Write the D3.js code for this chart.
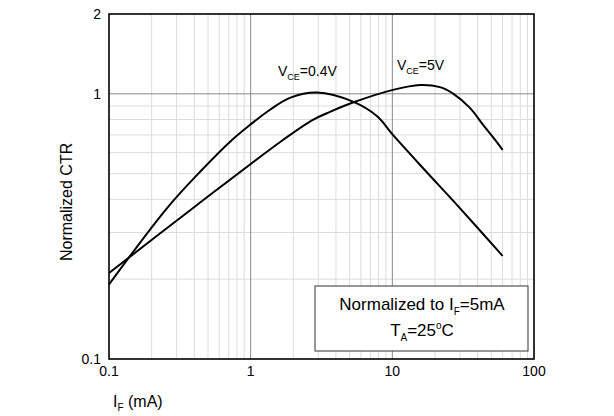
<!DOCTYPE html>
<html>
<head>
<meta charset="utf-8">
<script src="https://cdn.jsdelivr.net/npm/d3@7"></script>
<style>
  body { margin: 0; background: #fff; }
  text { font-family: Arial, "Liberation Sans", sans-serif; fill: #000; }
</style>
</head>
<body>
<script>
// forward current (mA) and normalized CTR
var if04  = [0.1, 0.257, 0.45, 0.738, 0.99, 1.37, 1.89, 2.94, 5.27, 7.78, 10.1, 17, 29, 60];
var ctr04 = [0.191, 0.371, 0.515, 0.67, 0.764, 0.871, 0.966, 1.012, 0.935, 0.825, 0.70, 0.515, 0.378, 0.245];

var if5  = [0.1, 0.418, 1.69, 2.75, 3.63, 5.45, 10.1, 15.7, 21.7, 27, 35.3, 44, 53, 60];
var ctr5 = [0.211, 0.381, 0.67, 0.798, 0.855, 0.933, 1.035, 1.08, 1.06, 1.0, 0.885, 0.76, 0.672, 0.615];

var xTicks = [0.1, 1, 10, 100];
var xTickLabels = ["0.1", "1", "10", "100"];
var yTicks = [0.1, 1, 2];
var yTickLabels = ["0.1", "1", "2"];

var w = 614, h = 416;
// plot box (window.top is reserved, so no "top" here)
var pL = 109, pR = 534, pT = 14, pB = 359;

var x = d3.scaleLog().domain([0.1, 100]).range([pL, pR]);
var y = d3.scaleLog().domain([0.1, 2]).range([pB, pT]);

var svg = d3.select("body").append("svg")
    .attr("width", w)
    .attr("height", h);

// minor grid
var minorX = [];
[0.1, 1, 10].forEach(function(d) {
  for (var k = 2; k <= 9; k++) minorX.push(d * k);
});
var minorY = [0.2, 0.3, 0.4, 0.5, 0.6, 0.7, 0.8, 0.9];

svg.selectAll(".gx")
    .data(minorX)
    .enter().append("line")
    .attr("x1", function(d) { return x(d); })
    .attr("x2", function(d) { return x(d); })
    .attr("y1", pT).attr("y2", pB)
    .attr("stroke", "#dcdcdc").attr("stroke-width", 1);

svg.selectAll(".gy")
    .data(minorY)
    .enter().append("line")
    .attr("y1", function(d) { return y(d); })
    .attr("y2", function(d) { return y(d); })
    .attr("x1", pL).attr("x2", pR)
    .attr("stroke", "#dcdcdc").attr("stroke-width", 1);

// decade lines
svg.selectAll(".mx")
    .data([1, 10])
    .enter().append("line")
    .attr("x1", function(d) { return x(d); })
    .attr("x2", function(d) { return x(d); })
    .attr("y1", pT).attr("y2", pB)
    .attr("stroke", "#8a8a8a").attr("stroke-width", 1);

svg.append("line")
    .attr("x1", pL).attr("x2", pR)
    .attr("y1", y(1)).attr("y2", y(1))
    .attr("stroke", "#8a8a8a").attr("stroke-width", 1);

// frame
svg.append("rect")
    .attr("x", pL).attr("y", pT)
    .attr("width", pR - pL).attr("height", pB - pT)
    .attr("fill", "none").attr("stroke", "#000").attr("stroke-width", 1.6);

// tick labels
svg.selectAll(".xt")
    .data(xTicks)
    .enter().append("text")
    .attr("x", function(d) { return x(d); })
    .attr("y", 376)
    .attr("text-anchor", "middle")
    .attr("font-size", 14)
    .text(function(d, i) { return xTickLabels[i]; });

svg.selectAll(".yt")
    .data(yTicks)
    .enter().append("text")
    .attr("x", 101)
    .attr("y", function(d) { return y(d) + 5; })
    .attr("text-anchor", "end")
    .attr("font-size", 14)
    .text(function(d, i) { return yTickLabels[i]; });

// curves
var line = d3.line()
    .x(function(d) { return x(d[0]); })
    .y(function(d) { return y(d[1]); })
    .curve(d3.curveCatmullRom.alpha(0.5));

svg.append("path")
    .datum(d3.zip(if04, ctr04))
    .attr("d", line)
    .attr("fill", "none").attr("stroke", "#000").attr("stroke-width", 2);

svg.append("path")
    .datum(d3.zip(if5, ctr5))
    .attr("d", line)
    .attr("fill", "none").attr("stroke", "#000").attr("stroke-width", 2);

// curve labels
function vceLabel(tx, ty, val) {
  var t = svg.append("text").attr("x", tx).attr("y", ty).attr("font-size", 14);
  t.append("tspan").text("V");
  t.append("tspan").attr("font-size", 9).attr("dy", 4).text("CE");
  t.append("tspan").attr("dy", -4).text("=" + val);
}
vceLabel(278, 76, "0.4V");
vceLabel(397, 70, "5V");

// axis titles
var xt = svg.append("text").attr("x", 113).attr("y", 407).attr("font-size", 16);
xt.append("tspan").text("I");
xt.append("tspan").attr("font-size", 10).attr("dy", 4).text("F");
xt.append("tspan").attr("dy", -4).text(" (mA)");

svg.append("text")
    .attr("transform", "translate(72,261) rotate(-90)")
    .attr("font-size", 16)
    .text("Normalized CTR");

// note box
svg.append("rect")
    .attr("x", 315).attr("y", 286)
    .attr("width", 213).attr("height", 65)
    .attr("fill", "#fff").attr("stroke", "#333").attr("stroke-width", 1);

var n1 = svg.append("text").attr("x", 422).attr("y", 310)
    .attr("text-anchor", "middle").attr("font-size", 17);
n1.append("tspan").text("Normalized to I");
n1.append("tspan").attr("font-size", 10).attr("dy", 5).text("F");
n1.append("tspan").attr("dy", -5).text("=5mA");

var n2 = svg.append("text").attr("x", 422).attr("y", 336)
    .attr("text-anchor", "middle").attr("font-size", 17);
n2.append("tspan").text("T");
n2.append("tspan").attr("font-size", 10).attr("dy", 5).text("A");
n2.append("tspan").attr("dy", -5).text("=25");
n2.append("tspan").attr("font-size", 10).attr("dy", -7).text("o");
n2.append("tspan").attr("dy", 7).text("C");
</script>
</body>
</html>
